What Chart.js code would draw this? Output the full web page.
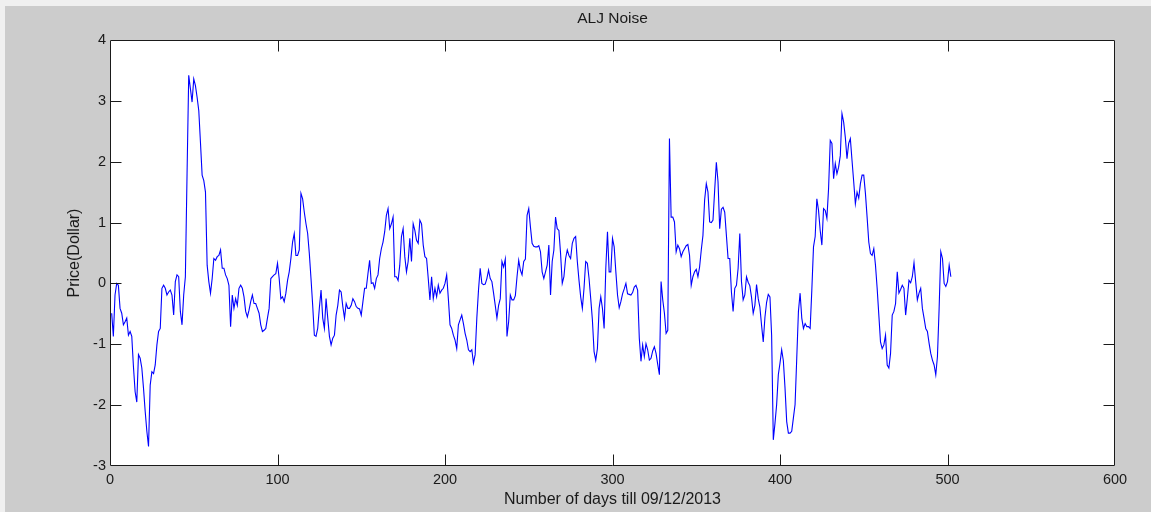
<!DOCTYPE html>
<html>
<head>
<meta charset="utf-8">
<title>ALJ Noise</title>
<script src="https://cdn.jsdelivr.net/npm/chart.js@4.4.1/dist/chart.umd.min.js"></script>
<style>
  html, body { margin: 0; padding: 0; background: #f0f0f0; overflow: hidden; }
  #c { display: block; }
</style>
</head>
<body>
<canvas id="c" width="1151" height="512"></canvas>
<script>
// ---- chart text ----
const chartTitle = 'ALJ Noise';
const xAxisTitle = 'Number of days till 09/12/2013';
const yAxisTitle = 'Price(Dollar)';

// ---- axis ticks ----
const xTicks = [0, 100, 200, 300, 400, 500, 600];
const yTicks = [-3, -2, -1, 0, 1, 2, 3, 4];

// ---- series: daily noise component, day 1 .. 502 ----
const firstDay = 1;
const noise = [
  -0.49,-0.87,-0.19,0.00,-0.03,-0.41,-0.49,-0.68,-0.63,-0.57,
  -0.85,-0.79,-0.87,-1.37,-1.78,-1.95,-1.17,-1.23,-1.39,-1.72,
  -2.10,-2.43,-2.68,-1.67,-1.45,-1.48,-1.34,-1.01,-0.79,-0.74,
  -0.08,-0.03,-0.08,-0.19,-0.14,-0.11,-0.19,-0.52,0.03,0.14,
  0.11,-0.46,-0.68,-0.19,0.11,1.80,3.42,3.20,2.98,3.36,
  3.25,3.06,2.84,2.32,1.78,1.69,1.50,0.30,0.03,-0.16,
  0.08,0.41,0.38,0.44,0.46,0.55,0.25,0.25,0.14,0.08,
  -0.03,-0.71,-0.19,-0.41,-0.25,-0.36,-0.08,-0.03,-0.08,-0.22,
  -0.46,-0.55,-0.44,-0.30,-0.19,-0.33,-0.33,-0.41,-0.49,-0.68,
  -0.79,-0.77,-0.74,-0.57,-0.41,0.08,0.11,0.14,0.16,0.33,
  0.08,-0.25,-0.22,-0.30,-0.16,0.05,0.19,0.41,0.68,0.82,
  0.46,0.46,0.55,1.48,1.39,1.17,0.98,0.82,0.49,0.08,
  -0.36,-0.85,-0.87,-0.74,-0.40,-0.11,-0.57,-0.74,-0.25,-0.57,
  -0.87,-1.01,-0.90,-0.85,-0.52,-0.36,-0.11,-0.14,-0.38,-0.57,
  -0.33,-0.41,-0.41,-0.36,-0.25,-0.30,-0.38,-0.41,-0.42,-0.52,
  -0.30,-0.08,-0.08,0.16,0.38,0.00,0.01,-0.08,0.08,0.14,
  0.41,0.57,0.68,0.85,1.12,1.23,0.90,0.98,1.09,0.11,
  0.11,0.05,0.30,0.77,0.90,0.44,0.19,0.36,0.74,0.36,
  0.98,0.87,0.71,0.66,1.04,0.98,0.63,0.44,0.41,0.08,
  -0.27,0.11,-0.25,-0.08,-0.22,-0.03,-0.16,-0.11,-0.08,0.00,
  0.14,-0.25,-0.68,-0.74,-0.85,-0.93,-1.07,-0.68,-0.60,-0.52,
  -0.66,-0.82,-0.93,-1.09,-1.12,-1.09,-1.31,-1.17,-0.57,-0.11,
  0.25,0.00,-0.02,-0.01,0.08,0.22,0.08,0.03,-0.16,-0.36,
  -0.57,-0.36,-0.25,0.36,0.27,0.40,-0.87,-0.63,-0.19,-0.27,
  -0.27,-0.20,0.11,0.38,0.22,0.14,0.36,0.40,1.12,1.23,
  0.93,0.66,0.61,0.60,0.60,0.62,0.52,0.19,0.08,0.19,
  0.30,0.63,-0.19,0.36,0.55,1.09,0.90,0.87,0.49,0.00,
  0.11,0.41,0.55,0.46,0.41,0.66,0.74,0.77,0.36,0.05,
  -0.22,-0.41,-0.08,0.36,0.33,0.08,-0.25,-0.60,-1.12,-1.26,
  -1.07,-0.41,-0.22,-0.41,-0.74,0.25,0.85,0.19,0.19,0.74,
  0.60,0.19,-0.19,-0.40,-0.30,-0.17,-0.09,0.00,-0.17,-0.18,
  -0.19,-0.15,-0.06,-0.03,-0.11,-0.90,-1.28,-1.01,-1.20,-0.99,
  -1.09,-1.26,-1.23,-1.11,-1.04,-1.15,-1.33,-1.50,0.03,-0.27,
  -0.49,-0.82,-0.77,2.38,1.09,1.09,1.01,0.52,0.63,0.57,
  0.44,0.52,0.57,0.62,0.64,0.46,-0.03,0.11,0.19,0.23,
  0.11,0.27,0.55,0.79,1.37,1.64,1.50,1.01,1.00,1.04,
  1.53,1.99,1.67,0.90,1.22,1.25,1.17,0.79,0.41,0.41,
  -0.14,-0.46,-0.08,-0.03,0.25,0.82,0.03,-0.27,-0.19,0.11,
  0.02,-0.04,-0.23,-0.49,-0.36,-0.02,-0.25,-0.39,-0.69,-0.96,
  -0.56,-0.31,-0.18,-0.22,-0.85,-2.57,-2.30,-1.99,-1.50,-1.31,
  -1.09,-1.27,-1.72,-2.27,-2.46,-2.46,-2.43,-2.21,-1.99,-1.23,
  -0.46,-0.16,-0.57,-0.74,-0.66,-0.71,-0.71,-0.74,-0.11,0.60,
  0.77,1.39,1.20,0.87,0.63,1.23,1.20,1.07,1.56,2.35,
  2.30,1.72,1.97,1.80,1.91,2.10,2.79,2.65,2.40,2.05,
  2.30,2.38,2.02,1.67,1.31,1.50,1.40,1.64,1.78,1.78,
  1.48,1.09,0.68,0.49,0.46,0.57,0.30,-0.08,-0.52,-0.96,
  -1.07,-1.01,-0.85,-1.34,-1.39,-1.15,-0.52,-0.46,-0.33,0.19,
  -0.16,-0.10,-0.03,-0.08,-0.52,-0.25,0.05,0.01,0.11,0.34,
  0.03,-0.27,-0.16,-0.08,-0.41,-0.57,-0.74,-0.79,-0.98,-1.15,
  -1.26,-1.34,-1.50,-1.20,-0.41,0.52,0.41,0.00,-0.05,0.03,
  0.30,0.11
];

const points = noise.map((v, i) => ({ x: firstDay + i, y: v }));

const FONT = 'Liberation Sans, Arial, Helvetica, sans-serif';
const INK = '#1a1a1a';
const TICK_LEN = 11;

// Figure background, white axes box, frame and inward tick marks
const figureFrame = {
  id: 'figureFrame',
  beforeDraw(chart) {
    const { ctx, width, height, chartArea: a } = chart;
    ctx.save();
    ctx.fillStyle = '#f0f0f0';
    ctx.fillRect(0, 0, width, height);
    ctx.fillStyle = '#cccccc';
    ctx.fillRect(5, 6, width - 5, height - 6);
    ctx.fillStyle = '#ffffff';
    ctx.fillRect(a.left, a.top, a.right - a.left, a.bottom - a.top);
    ctx.restore();
  },
  afterDraw(chart) {
    const { ctx, chartArea: a, scales } = chart;
    ctx.save();
    ctx.strokeStyle = INK;
    ctx.lineWidth = 1;
    ctx.beginPath();
    const L = Math.round(a.left) + 0.5, R = Math.round(a.right) - 0.5;
    const T = Math.round(a.top) + 0.5, B = Math.round(a.bottom) - 0.5;
    ctx.rect(L, T, R - L, B - T);
    xTicks.forEach(v => {
      if (v === xTicks[0] || v === xTicks[xTicks.length - 1]) return;
      const px = Math.round(scales.x.getPixelForValue(v)) + 0.5;
      ctx.moveTo(px, B); ctx.lineTo(px, B - TICK_LEN);
      ctx.moveTo(px, T); ctx.lineTo(px, T + TICK_LEN);
    });
    yTicks.forEach(v => {
      if (v === yTicks[0] || v === yTicks[yTicks.length - 1]) return;
      const py = Math.round(scales.y.getPixelForValue(v)) + 0.5;
      ctx.moveTo(L, py); ctx.lineTo(L + TICK_LEN, py);
      ctx.moveTo(R, py); ctx.lineTo(R - TICK_LEN, py);
    });
    ctx.stroke();
    ctx.restore();
  }
};

new Chart(document.getElementById('c'), {
  type: 'line',
  data: {
    datasets: [{
      data: points,
      borderColor: '#0000ff',
      borderWidth: 1.1,
      pointRadius: 0,
      tension: 0,
      fill: false
    }]
  },
  options: {
    responsive: false,
    animation: false,
    devicePixelRatio: 1,
    layout: { padding: { left: 0, top: 0, right: 36, bottom: 0 } },
    plugins: {
      legend: { display: false },
      tooltip: { enabled: false },
      title: {
        display: true,
        text: chartTitle,
        fullSize: false,
        color: INK,
        font: { family: FONT, size: 15.5, weight: 'normal' },
        padding: { top: 9, bottom: 12.4 }
      }
    },
    scales: {
      x: {
        type: 'linear',
        min: xTicks[0],
        max: xTicks[xTicks.length - 1],
        afterBuildTicks: s => { s.ticks = xTicks.map(v => ({ value: v })); },
        afterFit: s => { s.height = 46; },
        grid: { display: false, drawTicks: false },
        border: { display: false },
        ticks: {
          color: INK,
          font: { family: FONT, size: 14.5 },
          padding: 5,
          maxRotation: 0,
          autoSkip: false
        },
        title: {
          display: true,
          text: xAxisTitle,
          color: INK,
          font: { family: FONT, size: 16 },
          padding: { top: 0, bottom: 2.5 }
        }
      },
      y: {
        type: 'linear',
        min: yTicks[0],
        max: yTicks[yTicks.length - 1],
        afterBuildTicks: s => { s.ticks = yTicks.map(v => ({ value: v })); },
        afterFit: s => { s.width = 110; },
        grid: { display: false, drawTicks: false },
        border: { display: false },
        ticks: {
          color: INK,
          font: { family: FONT, size: 14.5 },
          padding: 4,
          autoSkip: false
        },
        title: {
          display: true,
          text: yAxisTitle,
          color: INK,
          font: { family: FONT, size: 16 },
          padding: { top: 65, bottom: 0 }
        }
      }
    }
  },
  plugins: [figureFrame]
});
</script>
</body>
</html>
